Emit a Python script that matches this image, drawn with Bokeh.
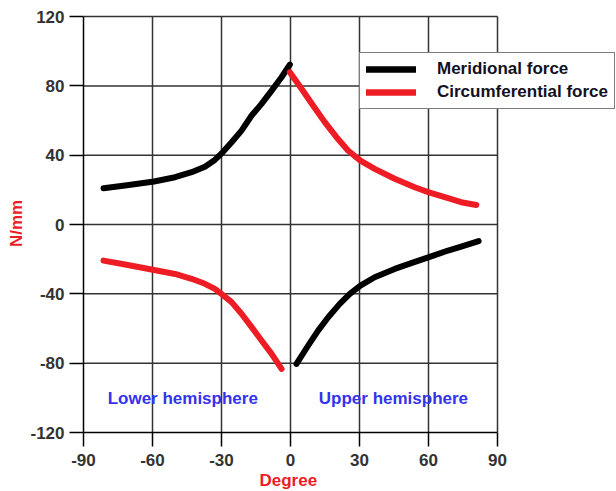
from bokeh.plotting import figure
from bokeh.models import Range1d, FixedTicker, Label, Legend, Title
from bokeh.embed import file_html
from bokeh.resources import INLINE

# --- data ---
mer_deg_lower = [-81.3, -71.9, -59.3, -50.2, -43.0, -37.2, -32.9, -29.5, -25.6, -21.3, -16.9, -12.6, -8.2, -3.9, -0.3]
mer_val_lower = [20.9, 22.5, 24.8, 27.3, 30.2, 33.4, 37.3, 41.7, 47.5, 54.2, 62.9, 69.6, 77.3, 85.0, 92.3]
mer_deg_upper = [2.6, 7.7, 12.0, 16.4, 21.4, 25.8, 30.4, 36.6, 45.3, 52.5, 60.2, 68.5, 74.2, 81.8]
mer_val_upper = [-80.4, -69.8, -61.2, -53.5, -45.8, -40.0, -35.2, -30.4, -25.6, -22.3, -18.8, -15.0, -12.7, -9.6]

cir_deg_lower = [-81.3, -71.9, -59.3, -50.2, -43.0, -37.2, -32.9, -29.5, -25.6, -21.3, -16.9, -12.6, -8.2, -3.9]
cir_val_lower = [-20.8, -23.1, -26.2, -28.5, -31.3, -34.2, -37.1, -40.6, -44.8, -51.5, -59.2, -66.9, -74.6, -83.3]
cir_deg_upper = [-0.3, 4.8, 9.8, 14.9, 20.0, 25.0, 30.4, 36.6, 45.3, 54.0, 60.2, 68.5, 74.2, 80.8]
cir_val_upper = [87.9, 78.3, 68.7, 59.1, 50.4, 42.7, 36.9, 32.1, 26.4, 21.5, 18.6, 15.2, 12.9, 11.3]

x_ticks = [-90, -60, -30, 0, 30, 60, 90]
x_tick_labels = ["-90", "-60", "-30", "0", "30", "60", "90"]
y_ticks = [-120, -80, -40, 0, 40, 80, 120]
y_tick_labels = ["-120", "-80", "-40", "0", "40", "80", "120"]

FONT = "Liberation Sans"
RED = "#ee1c24"
GRID = "#333333"

W, H = 616, 491
LEFT, TOP, BOTTOM = 83, 14, 59
AXIS_W = 414          # pixels from -90 to 90
px_per_deg = AXIS_W / (x_ticks[-1] - x_ticks[0])
x_end = x_ticks[-1] + (W - LEFT - AXIS_W) / px_per_deg
y_pad = 1.2

p = figure(width=W, height=H, output_backend="svg", toolbar_location=None,
           x_range=Range1d(x_ticks[0], x_end), y_range=Range1d(y_ticks[0], y_ticks[-1] + y_pad),
           min_border_left=LEFT, min_border_right=0, min_border_top=TOP, min_border_bottom=BOTTOM)

p.outline_line_color = None
p.xgrid.visible = False
p.ygrid.visible = False

for ax, ticks, labels in ((p.xaxis[0], x_ticks, x_tick_labels), (p.yaxis[0], y_ticks, y_tick_labels)):
    ax.ticker = FixedTicker(ticks=ticks)
    ax.major_label_overrides = {t: l for t, l in zip(ticks, labels)}
    ax.bounds = (ticks[0], ticks[-1])
    ax.major_tick_out = 14
    ax.major_tick_in = 0
    ax.minor_tick_out = 0
    ax.minor_tick_in = 0
    ax.axis_line_color = "black"
    ax.axis_line_width = 1.5
    ax.major_tick_line_color = "black"
    ax.major_tick_line_width = 1.5
    ax.major_label_text_font = FONT
    ax.major_label_text_font_size = "17px"
    ax.major_label_text_font_style = "bold"
    ax.major_label_text_color = "#333333"
    ax.axis_label_text_font = FONT
    ax.axis_label_text_font_size = "17px"
    ax.axis_label_text_font_style = "bold"
    ax.axis_label_text_color = RED

p.yaxis.axis_label = "N/mm"
p.xaxis.major_label_standoff = 7
p.yaxis.major_label_standoff = 5
p.yaxis.axis_label_standoff = 1

# x-axis title, centred on 0 degrees
p.add_layout(Title(text="Degree", align="left", offset=259 - LEFT, standoff=0,
                   text_font=FONT, text_font_size="17px", text_font_style="bold",
                   text_color=RED), "below")

# grid lines (only inside -90..90 / -120..120)
p.segment(x0=x_ticks[1:], x1=x_ticks[1:], y0=y_ticks[0], y1=y_ticks[-1], line_color=GRID, line_width=1.5)
p.segment(x0=x_ticks[0], x1=x_ticks[-1], y0=y_ticks[1:], y1=y_ticks[1:], line_color=GRID, line_width=1.5)

r1 = p.line(mer_deg_lower, mer_val_lower, line_color="black", line_width=6, line_cap="round", line_join="round")
r2 = p.line(mer_deg_upper, mer_val_upper, line_color="black", line_width=6, line_cap="round", line_join="round")
r3 = p.line(cir_deg_lower, cir_val_lower, line_color=RED, line_width=6, line_cap="round", line_join="round")
r4 = p.line(cir_deg_upper, cir_val_upper, line_color=RED, line_width=6, line_cap="round", line_join="round")

legend = Legend(items=[("Meridional force", [r1, r2]), ("Circumferential force", [r3, r4])],
                location=(276, 323))
legend.border_line_color = "black"
legend.border_line_width = 1.5
legend.padding = 6
legend.spacing = 3
legend.margin = 0
legend.glyph_width = 50
legend.glyph_height = 20
legend.label_height = 20
legend.label_standoff = 21
legend.label_text_font = FONT
legend.label_text_font_size = "17px"
legend.label_text_font_style = "bold"
legend.label_text_color = "#111122"
legend.background_fill_alpha = 1
p.add_layout(legend, "center")

for txt, xx in (("Lower hemisphere", -79.5), ("Upper hemisphere", 12.3)):
    p.add_layout(Label(x=xx, y=-100.5, text=txt, text_font=FONT, text_font_size="17px",
                       text_font_style="bold", text_color="#3333ee", text_baseline="middle"))

open("out.html", "w").write(file_html(p, INLINE))
